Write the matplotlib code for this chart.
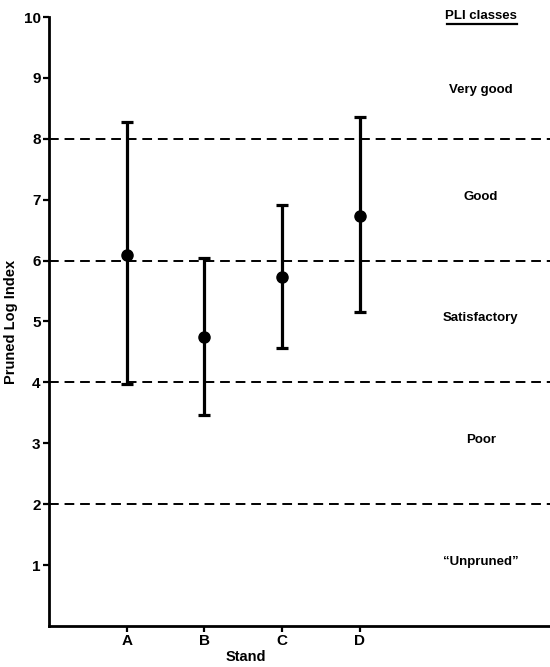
import matplotlib
matplotlib.use("Agg")
from matplotlib import pyplot as plt

# stand means with the lower / upper ends of the bars
stands = ["A", "B", "C", "D"]
means = [6.1, 4.75, 5.73, 6.74]
lower = [3.98, 3.47, 4.57, 5.16]
upper = [8.28, 6.05, 6.92, 8.35]

# PLI class boundaries and labels
bounds = [2, 4, 6, 8]
classes = ["\u201cUnpruned\u201d", "Poor", "Satisfactory", "Good", "Very good"]
class_y = [1.05, 3.05, 5.05, 7.05, 8.8]

plt.rcParams["font.family"] = ["Liberation Sans", "DejaVu Sans"]
plt.rcParams["font.weight"] = "bold"
plt.rcParams["axes.labelweight"] = "bold"

fig = plt.figure(figsize=(5.5, 6.67), dpi=100)
ax = fig.add_axes([0.089, 0.0615, 0.911, 0.913])

x = list(range(1, len(stands) + 1))
yerr = [[m - lo for m, lo in zip(means, lower)],
        [hi - m for m, hi in zip(means, upper)]]
ax.errorbar(x, means, yerr=yerr, fmt="o", color="black", ms=8,
            elinewidth=2.3, capsize=4, capthick=2.3, zorder=3)

for b in bounds:
    ax.axhline(b, color="black", lw=1.4, ls=(0, (5, 3)), zorder=1)

for lab, yy in zip(classes, class_y):
    ax.text(5.56, yy, lab, ha="center", va="center", fontsize=9.5)
ax.text(5.56, 10.02, "PLI classes", ha="center", va="center", fontsize=9.5)
ax.plot([5.13, 6.03], [9.88, 9.88], color="black", lw=1.6, clip_on=False)

ax.set_xlim(0, 6.45)
ax.set_ylim(0, 10)
ax.set_xticks(x)
ax.set_xticklabels(stands)
ax.set_yticks(range(1, 11))
ax.tick_params(direction="out", length=4, width=1.6, labelsize=11, pad=2)
ax.set_xlabel("Stand", fontsize=10.5)
ax.xaxis.set_label_coords(0.393, -0.04)
ax.set_ylabel("Pruned Log Index", fontsize=10.5, labelpad=4)

for s in ["top", "right"]:
    ax.spines[s].set_visible(False)
for s in ["left", "bottom"]:
    ax.spines[s].set_linewidth(2)

fig.savefig("out.png", dpi=100)
